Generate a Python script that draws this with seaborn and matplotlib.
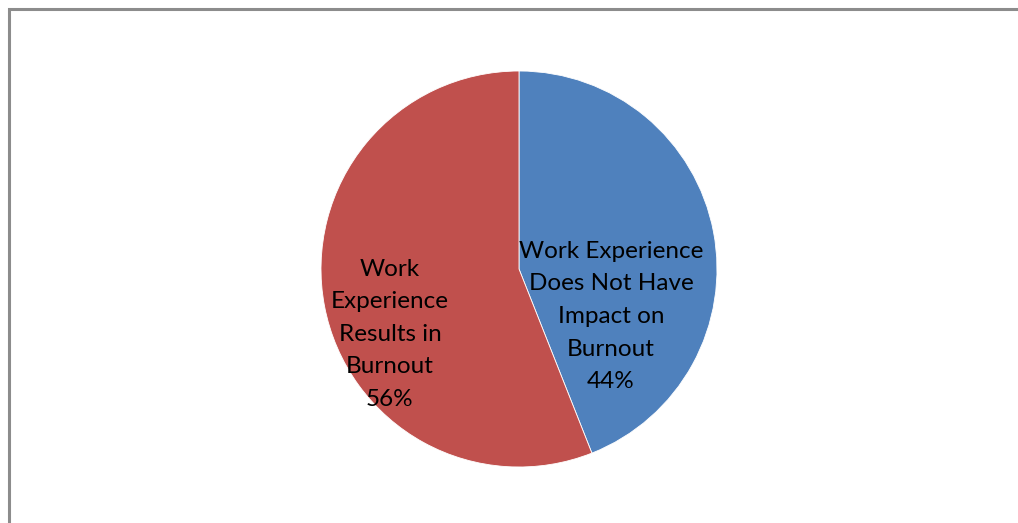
import matplotlib
matplotlib.use("Agg")
import matplotlib.pyplot as plt
from matplotlib.patches import Rectangle
import seaborn as sns

# Survey result: does work experience influence burnout?
categories = ["Work Experience\nDoes Not Have\nImpact on\nBurnout",
              "Work\nExperience\nResults in\nBurnout"]
shares = [44, 56]
colors = ["#4F81BD", "#C0504D"]

sns.set_theme(style="white")
plt.rcParams["font.family"] = ["Lato", "DejaVu Sans"]

W, H = 1018, 523
fig = plt.figure(figsize=(W / 100, H / 100), dpi=100)
fig.patch.set_facecolor("white")

# Chart-area frame (top and left edges visible)
fig.patches.append(Rectangle((8.5 / W, -0.2), 1.5, (H - 8.5) / H + 0.2,
                             transform=fig.transFigure, fill=False,
                             edgecolor="#8c8c8c", linewidth=2.2))

cx, cy, r = 519, 269, 198
ax = fig.add_axes([(cx - r) / W, (H - cy - r) / H, 2 * r / W, 2 * r / H])
wedges, _ = ax.pie(shares, colors=colors, startangle=90, counterclock=False,
                   radius=1, wedgeprops=dict(edgecolor="white", linewidth=0.6))
ax.set_xlim(-1, 1)
ax.set_ylim(-1, 1)
ax.set_aspect("equal")
ax.axis("off")

label_pos = [(0.465, -0.24), (-0.652, -0.33)]
for text, val, (x, y) in zip(categories, shares, label_pos):
    ax.text(x, y, f"{text}\n{val}%", ha="center", va="center",
            fontsize=17.5, color="black", linespacing=1.68)

fig.savefig("out.png", dpi=100)
